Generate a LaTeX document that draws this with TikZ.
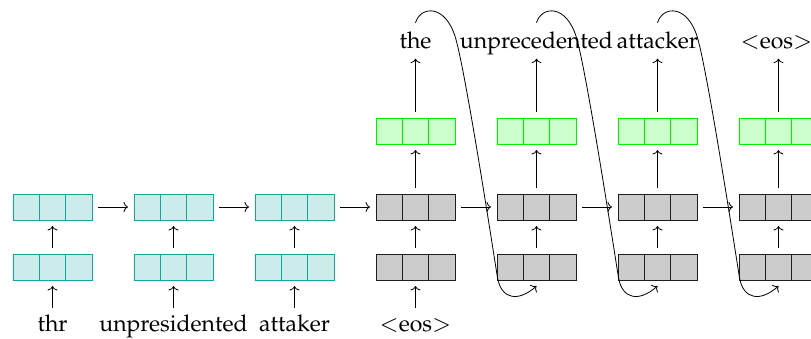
\documentclass[tikz,border=0pt]{standalone}
\usepackage[T1]{fontenc}
\usepackage{mathpazo}
\usetikzlibrary{calc,arrows.meta}
\definecolor{cyfill}{RGB}{204,236,236}
\definecolor{cyline}{RGB}{20,165,160}
\definecolor{grfill}{RGB}{204,255,204}
\definecolor{grline}{RGB}{0,240,0}
\definecolor{gyfill}{RGB}{204,204,204}
\definecolor{gyline}{RGB}{30,30,30}
\tikzset{
  cellbox/.style={rectangle, minimum width=79pt, minimum height=26pt,
    inner sep=0pt, outer sep=0pt, line width=1pt, draw=#1,
    path picture={
      \draw[line width=1pt,#1]
        ($(path picture bounding box.north west)!1/3!(path picture bounding box.north east)$) --
        ($(path picture bounding box.south west)!1/3!(path picture bounding box.south east)$)
        ($(path picture bounding box.north west)!2/3!(path picture bounding box.north east)$) --
        ($(path picture bounding box.south west)!2/3!(path picture bounding box.south east)$);
    }},
  encbox/.style={cellbox=cyline, fill=cyfill},
  decbox/.style={cellbox=gyline, fill=gyfill},
  outbox/.style={cellbox=grline, fill=grfill},
  lab/.style={font=\fontsize{23}{27}\selectfont, text height=17pt, text depth=6pt, inner sep=0pt},
  tip/.style={-{Computer Modern Rightarrow[length=4.5pt,width=10pt]}, line width=0.8pt},
  arr/.style={tip, shorten <=6pt, shorten >=6pt},
  loopback/.style={tip}
}
\begin{document}
\begin{tikzpicture}[x=1pt,y=-1pt]
\useasboundingbox (0,0) rectangle (811,338);
% encoder
\foreach \i/\x in {1/52.5,2/173.5,3/294.5}{
  \node[encbox] (b\i) at (\x,267) {};
  \node[encbox] (h\i) at (\x,207) {};
}
% decoder
\foreach \i/\x in {4/415.5,5/536.5,6/657.5,7/778.5}{
  \node[decbox] (b\i) at (\x,267) {};
  \node[decbox] (h\i) at (\x,207) {};
  \node[outbox] (g\i) at (\x,131) {};
}
% input labels
\node[lab] (i1) at (52.5,326) {thr};
\node[lab] (i2) at (173.5,326) {unpresidented};
\node[lab] (i3) at (294.5,326) {attaker};
\node[lab] (i4) at (415.5,326) {$<$eos$>$};
% output labels
\node[lab] (o4) at (415.5,42.5) {the};
\node[lab] (o5) at (536.5,42.5) {unprecedented};
\node[lab] (o6) at (657.5,42.5) {attacker};
\node[lab] (o7) at (776.5,42.5) {$<$eos$>$};
% arrows
\foreach \i in {1,...,4}{
  \draw[arr, shorten <=6.5pt] (i\i) -- (b\i);
}
\foreach \i in {1,...,7}{
  \draw[arr] (b\i) -- (h\i);
}
\foreach \i in {4,...,6}{
  \draw[arr] (h\i) -- (g\i);
  \draw[arr, shorten >=4.5pt] (g\i) -- (o\i);
}
\draw[arr] (h7) -- (g7);
\draw[arr, shorten >=4.5pt] (g7) -- (g7 |- o7.south);
\foreach \i/\j in {1/2,2/3,3/4,4/5,5/6,6/7}{
  \draw[arr] (h\i) -- (h\j);
}
% feedback curves
\foreach \i/\j in {4/5,5/6,6/7}{
  \coordinate (s\i) at ($(o\i.north)+(0,-8)$);
  \coordinate (e\i) at ($(b\j.south)+(0,6)$);
  \draw[loopback] (s\i) .. controls +(5,-17) and +(-10,-34) .. ($(s\i)+(40,15)$)
    .. controls +(10,34) and +(-6,-38) .. ($(s\i)+(82,255)$)
    .. controls +(4,22) and +(-18,16) .. (e\i);
}
\end{tikzpicture}
\end{document}
